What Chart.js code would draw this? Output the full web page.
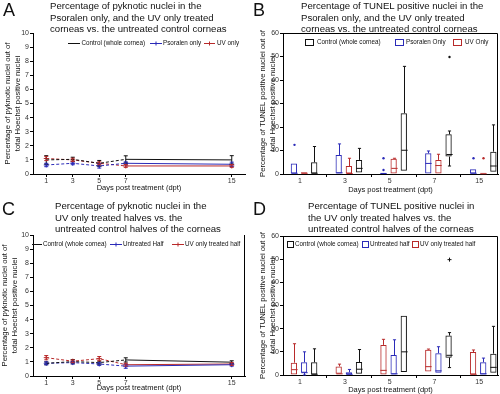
<!DOCTYPE html>
<html><head><meta charset="utf-8">
<script src="https://cdn.jsdelivr.net/npm/chart.js@4"></script>
<style>
body{margin:0;background:#fff;width:500px;height:394px;overflow:hidden;position:relative;font-family:"Liberation Sans",Arial,sans-serif}
.p{position:absolute;width:250px;height:197px}
.p canvas{position:absolute;left:0;top:0}
.letter{position:absolute;font-size:18px;line-height:18px;color:#111}
.title{position:absolute;font-size:9.6px;line-height:11.5px;color:#111;white-space:nowrap}
</style></head><body>
<div class="p" style="left:0;top:0"><canvas id="cA" width="250" height="197"></canvas>
<div class="letter" style="left:3px;top:1px">A</div>
<div class="title" style="left:50px;top:0px">Percentage of pyknotic nuclei in the<br>Psoralen only, and the UV only treated<br>corneas vs. the untreated control corneas</div></div>
<div class="p" style="left:250px;top:0"><canvas id="cB" width="250" height="197"></canvas>
<div class="letter" style="left:3px;top:1px">B</div>
<div class="title" style="left:51px;top:0px">Percentage of TUNEL positive nuclei in the<br>Psoralen only, and the UV only treated<br>corneas vs. the untreated control corneas</div></div>
<div class="p" style="left:0;top:197px"><canvas id="cC" width="250" height="197"></canvas>
<div class="letter" style="left:2px;top:3px">C</div>
<div class="title" style="left:55px;top:3px">Percentage of pyknotic nuclei in the<br>UV only treated halves vs. the<br>untreated control halves of the corneas</div></div>
<div class="p" style="left:250px;top:197px"><canvas id="cD" width="250" height="197"></canvas>
<div class="letter" style="left:3px;top:3px">D</div>
<div class="title" style="left:58px;top:3px">Percentage of TUNEL positive nuclei in<br>the UV only treated halves vs. the<br>untreated control halves of the corneas</div></div>
<script>
// ---------- DATA ----------
const days = [1, 3, 5, 7, 15];
const dayTicks = [1, 3, 5, 7, 15];
const boxCats = ['1', '3', '5', '7', '15'];

// Panel A: pyknotic nuclei (%), mean and error
const aControl = [1.0, 1.04, 0.76, 1.04, 1.0];
const aControlErr = [0.3, 0.15, 0.2, 0.25, 0.3];
const aPsoralen = [0.64, 0.76, 0.57, 0.76, 0.69];
const aPsoralenErr = [0.12, 0.1, 0.15, 0.1, 0.15];
const aUV = [1.1, 1.0, 0.76, 0.57, 0.57];
const aUVErr = [0.15, 0.12, 0.1, 0.1, 0.1];

// Panel C: pyknotic nuclei (%), mean and error
const cControl = [0.9, 1.02, 0.95, 1.14, 0.98];
const cControlErr = [0.1, 0.15, 0.1, 0.15, 0.1];
const cUntreated = [0.9, 0.95, 0.85, 0.7, 0.8];
const cUntreatedErr = [0.1, 0.1, 0.1, 0.15, 0.1];
const cUVHalf = [1.3, 1.05, 1.23, 0.8, 0.85];
const cUVHalfErr = [0.15, 0.1, 0.15, 0.1, 0.1];

// Panel B: TUNEL box plots (min, q1, median, q3, max, outliers)
const bCtrlMin = [0, 0.6, 1.4, 3.4, 1.0];
const bCtrlQ1  = [0, 0.6, 1.4, 7.4, 1.0];
const bCtrlMed = [0.3, 2.4, 10.1, 8.3, 3.4];
const bCtrlQ3  = [5.0, 6.0, 25.9, 16.9, 9.5];
const bCtrlMax = [11.7, 10.9, 45.8, 18.3, 20.9];
const bCtrlOut = [[], [], [], [49.8], []];
const bPsoMin = [0, 0, 0, 0, 0];
const bPsoQ1  = [0, 0, 0, 0, 0];
const bPsoMed = [0.3, 0.5, 0.2, 4.5, 0.3];
const bPsoQ3  = [4.5, 8.1, 0.5, 8.8, 2.0];
const bPsoMax = [4.5, 12.8, 0.5, 9.8, 2.0];
const bPsoOut = [[12.4], [], [1.7, 6.7], [], [6.7]];
const bUVMin = [0, 0, 0, 0, 0];
const bUVQ1  = [0, 0, 0, 0, 0];
const bUVMed = [0.3, 0.2, 2.4, 3.6, 0.1];
const bUVQ3  = [0.7, 3.4, 6.5, 6.0, 0.5];
const bUVMax = [0.7, 6.7, 6.7, 8.4, 0.5];
const bUVOut = [[], [], [], [], [6.7]];

// Panel D: TUNEL box plots
const dCtrlMin = [0, 0.5, 1.3, 3.2, 1.0];
const dCtrlQ1  = [0, 0.5, 1.3, 7.5, 1.0];
const dCtrlMed = [0.3, 2.5, 10.0, 8.5, 3.3];
const dCtrlQ3  = [5.5, 5.6, 25.6, 17.0, 9.2];
const dCtrlMax = [11.3, 11.0, 25.6, 18.3, 21.0];
const dCtrlOut = [[], [], [], [49.8], []];
const dUntMin = [0, 0, 0, 1.0, 0];
const dUntQ1  = [1.0, 0, 0, 1.0, 0];
const dUntMed = [1.0, 0.3, 0.5, 1.8, 0.5];
const dUntQ3  = [5.5, 1.2, 8.6, 9.4, 5.5];
const dUntMax = [10.0, 2.4, 15.2, 12.2, 7.3];
const dUntOut = [[], [], [], [], []];
const dUVMin = [0, 0.5, 0, 1.5, 0];
const dUVQ1  = [0, 0.5, 0, 1.5, 0];
const dUVMed = [2.3, 0.5, 2.0, 3.6, 0.3];
const dUVQ3  = [5.3, 3.7, 13.0, 10.9, 9.9];
const dUVMax = [13.5, 4.7, 15.4, 11.2, 10.8];
const dUVOut = [[], [], [], [], []];

// ---------- STYLE ----------
const BLACK = '#111111', BLUE = '#2b2bb8', RED = '#b82a2a';
const FONT = '"Liberation Sans", Arial, sans-serif';
Chart.defaults.font.family = FONT;
Chart.defaults.color = '#333';
Chart.defaults.animation = false;

// ---------- PLUGINS ----------
const errorBars = {
  id: 'errorBars',
  afterDatasetsDraw(chart) {
    const ctx = chart.ctx, y = chart.scales.y;
    chart.data.datasets.forEach((ds, di) => {
      if (!ds.err) return;
      const meta = chart.getDatasetMeta(di);
      ctx.save();
      ctx.strokeStyle = ds.borderColor; ctx.lineWidth = 1;
      meta.data.forEach((pt, i) => {
        const v = ds.data[i].y, e = ds.err[i];
        const y1 = y.getPixelForValue(v + e), y2 = y.getPixelForValue(v - e);
        ctx.beginPath();
        ctx.moveTo(pt.x, y1); ctx.lineTo(pt.x, y2);
        ctx.moveTo(pt.x - 2, y1); ctx.lineTo(pt.x + 2, y1);
        ctx.moveTo(pt.x - 2, y2); ctx.lineTo(pt.x + 2, y2);
        ctx.stroke();
      });
      ctx.restore();
    });
  }
};

const boxExtras = {
  id: 'boxExtras',
  afterDatasetsDraw(chart, args, opts) {
    const ctx = chart.ctx, y = chart.scales.y;
    chart.data.datasets.forEach((ds, di) => {
      const meta = chart.getDatasetMeta(di);
      ctx.save();
      ctx.strokeStyle = ds.borderColor; ctx.fillStyle = ds.borderColor; ctx.lineWidth = 1;
      meta.data.forEach((bar, i) => {
        const x = Math.round(bar.x) + 0.5, hw = bar.width / 2;
        const yMed = y.getPixelForValue(ds.med[i]);
        const yQ1 = y.getPixelForValue(ds.data[i].y[0]);
        const yQ3 = y.getPixelForValue(ds.data[i].y[1]);
        const yMin = y.getPixelForValue(ds.min[i]);
        const yMax = y.getPixelForValue(ds.max[i]);
        ctx.beginPath();
        ctx.moveTo(x - hw, yMed); ctx.lineTo(x + hw, yMed);
        if (ds.max[i] > ds.data[i].y[1]) {
          ctx.moveTo(x, yQ3); ctx.lineTo(x, yMax);
          ctx.moveTo(x - hw / 2, yMax); ctx.lineTo(x + hw / 2, yMax);
        }
        if (ds.min[i] < ds.data[i].y[0]) {
          ctx.moveTo(x, yQ1); ctx.lineTo(x, yMin);
          ctx.moveTo(x - hw / 2, yMin); ctx.lineTo(x + hw / 2, yMin);
        }
        ctx.stroke();
        (ds.out[i] || []).forEach(o => {
          const yo = y.getPixelForValue(o);
          if (opts.plus) {
            ctx.beginPath();
            ctx.moveTo(x - 2, yo); ctx.lineTo(x + 2, yo);
            ctx.moveTo(x, yo - 2); ctx.lineTo(x, yo + 2);
            ctx.stroke();
          } else {
            ctx.beginPath(); ctx.arc(x, yo, 1.2, 0, Math.PI * 2); ctx.fill();
          }
        });
      });
      ctx.restore();
    });
  }
};

const frame = {
  id: 'frame',
  afterDraw(chart, args, opts) {
    if (!opts.mode) return;
    const {left, right, top, bottom} = chart.chartArea;
    const ctx = chart.ctx;
    ctx.save(); ctx.strokeStyle = '#000'; ctx.lineWidth = 1;
    ctx.beginPath();
    if (opts.mode === 'box') {
      ctx.moveTo(left, top + 0.5); ctx.lineTo(right - 0.5, top + 0.5); ctx.lineTo(right - 0.5, bottom);
    } else if (opts.mode === 'right') {
      ctx.moveTo(right - 0.5, top); ctx.lineTo(right - 0.5, bottom);
    }
    ctx.stroke(); ctx.restore();
  }
};

const customLegend = {
  id: 'customLegend',
  afterDraw(chart, args, opts) {
    if (!opts.items) return;
    const ctx = chart.ctx, y = opts.y;
    ctx.save();
    ctx.font = '6.3px ' + FONT;
    ctx.textBaseline = 'middle';
    chart.data.datasets.forEach((ds, i) => {
      const it = opts.items[i];
      ctx.strokeStyle = ds.borderColor; ctx.lineWidth = 1;
      ctx.beginPath();
      if (opts.kind === 'line') {
        ctx.moveTo(it.x0, y + 0.5); ctx.lineTo(it.x1, y + 0.5);
        if (it.mark) {
          const m = (it.x0 + it.x1) / 2;
          ctx.moveTo(m, y - 1.5); ctx.lineTo(m, y + 2.5);
        }
        ctx.stroke();
      } else {
        ctx.strokeRect(it.x0 + 0.5, y - 2.5, it.x1 - it.x0, 6);
      }
      ctx.fillStyle = '#111';
      ctx.fillText(ds.label, it.tx, y + 0.5);
    });
    ctx.restore();
  }
};

// ---------- BUILDERS ----------
function lineDs(label, color, vals, errs, marker) {
  return {
    label, data: days.map((d, i) => ({x: d, y: vals[i]})), err: errs,
    borderColor: color, backgroundColor: color, borderWidth: 1,
    pointStyle: 'cross', pointRadius: marker ? 2.5 : 0, pointBorderWidth: 1,
    segment: { borderDash: c => (c.p1.parsed.x <= 7 ? [3, 2] : undefined) },
    tension: 0
  };
}
function boxDs(label, color, mn, q1, md, q3, mx, out) {
  return {
    label, data: q1.map((v, i) => ({x: i, y: [v, q3[i]]})),
    min: mn, med: md, max: mx, out,
    borderColor: color, backgroundColor: 'rgba(0,0,0,0)', borderWidth: 1, borderSkipped: false,
    barPercentage: 0.62, categoryPercentage: 0.68
  };
}
function yAxis(max, step, titleLines, width, titlePadTop) {
  return {
    min: 0, max,
    ticks: { stepSize: step, font: {size: 7}, padding: 1, color: '#333' },
    grid: { drawOnChartArea: false, drawTicks: true, tickLength: 3, color: '#000' },
    border: { display: true, color: '#000', width: 1 },
    title: { display: true, text: titleLines, font: {size: 7.7, lineHeight: 1.25}, color: '#111', padding: {top: titlePadTop, bottom: 0} },
    afterFit: s => { s.width = width; }
  };
}
function xAxisLinear(height, titlePadBottom) {
  return {
    type: 'linear', min: 0, max: 16,
    afterBuildTicks: s => { s.ticks = dayTicks.map(v => ({value: v})); },
    ticks: { font: {size: 7}, padding: 0, color: '#333', maxRotation: 0 },
    grid: { drawOnChartArea: false, drawTicks: true, tickLength: 3, color: '#000' },
    border: { display: true, color: '#000', width: 1 },
    title: { display: true, text: 'Days post treatment (dpt)', font: {size: 7.5, lineHeight: 1.2}, color: '#111', padding: {top: 0, bottom: titlePadBottom} },
    afterFit: s => { s.height = height; }
  };
}
function xAxisBox(height, titlePadBottom) {
  return {
    type: 'linear', min: -0.47, max: 4.33, offset: false,
    afterBuildTicks: s => { s.ticks = boxCats.map((c, i) => ({value: i})); },
    ticks: { font: {size: 7}, padding: 0, color: '#333', maxRotation: 0, labelOffset: -4, callback: v => boxCats[v] },
    grid: { drawOnChartArea: false, drawTicks: true, tickLength: 3, color: '#000' },
    border: { display: true, color: '#000', width: 1 },
    title: { display: true, text: 'Days post treatment (dpt)', font: {size: 7.5, lineHeight: 1.2}, color: '#111', padding: {top: 0, bottom: titlePadBottom} },
    afterFit: s => { s.height = height; }
  };
}
const pykTitle = ['Percentage of pyknotic nuclei out of', 'total Hoechst positive nuclei'];
const tunelTitle = ['Percentage of TUNEL positive nuclei out of', 'total Hoechst positive nuclei'];
const basePlugins = { legend: {display: false}, tooltip: {enabled: false}, title: {display: false} };

// ---------- PANEL A ----------
new Chart(document.getElementById('cA'), {
  type: 'line',
  data: { datasets: [
    lineDs('Control (whole cornea)', BLACK, aControl, aControlErr, false),
    lineDs('Psoralen only', BLUE, aPsoralen, aPsoralenErr, true),
    lineDs('UV only', RED, aUV, aUVErr, true)
  ]},
  options: {
    responsive: false, devicePixelRatio: 1,
    layout: { padding: {left: 0, right: 3, top: 33, bottom: 0} },
    scales: { x: xAxisLinear(23, 5), y: yAxis(10, 1, pykTitle, 33, 3) },
    plugins: Object.assign({}, basePlugins, {
      customLegend: { kind: 'line', y: 43, items: [
        {x0: 68, x1: 80, tx: 81.5}, {x0: 150, x1: 162, tx: 163, mark: true}, {x0: 204, x1: 215, tx: 217, mark: true}
      ]},
      frame: {mode: null}
    })
  },
  plugins: [errorBars, customLegend, frame]
});

// ---------- PANEL C ----------
new Chart(document.getElementById('cC'), {
  type: 'line',
  data: { datasets: [
    lineDs('Control (whole cornea)', BLACK, cControl, cControlErr, false),
    lineDs('Untreated Half', BLUE, cUntreated, cUntreatedErr, true),
    lineDs('UV only treated half', RED, cUVHalf, cUVHalfErr, true)
  ]},
  options: {
    responsive: false, devicePixelRatio: 1,
    layout: { padding: {left: 0, right: 4, top: 38, bottom: 0} },
    scales: { x: xAxisLinear(18, 2), y: yAxis(10, 1, pykTitle, 33, 0) },
    plugins: Object.assign({}, basePlugins, {
      customLegend: { kind: 'line', y: 47, items: [
        {x0: 32, x1: 42, tx: 43}, {x0: 110, x1: 122, tx: 123, mark: true}, {x0: 172, x1: 184, tx: 185, mark: true}
      ]},
      frame: {mode: 'right'}
    })
  },
  plugins: [errorBars, customLegend, frame]
});

// ---------- PANEL B ----------
new Chart(document.getElementById('cB'), {
  type: 'bar',
  data: { datasets: [
    boxDs('Psoralen Only', BLUE, bPsoMin, bPsoQ1, bPsoMed, bPsoQ3, bPsoMax, bPsoOut),
    boxDs('UV Only', RED, bUVMin, bUVQ1, bUVMed, bUVQ3, bUVMax, bUVOut),
    boxDs('Control (whole cornea)', BLACK, bCtrlMin, bCtrlQ1, bCtrlMed, bCtrlQ3, bCtrlMax, bCtrlOut)
  ]},
  options: {
    responsive: false, devicePixelRatio: 1,
    layout: { padding: {left: 0, right: 2, top: 33, bottom: 0} },
    scales: { x: xAxisBox(23, 3), y: yAxis(60, 10, tunelTitle, 33, 8) },
    plugins: Object.assign({}, basePlugins, {
      customLegend: { kind: 'box', y: 42, items: [
        {x0: 145, x1: 153, tx: 156}, {x0: 203, x1: 211, tx: 215}, {x0: 55, x1: 63, tx: 67}
      ]},
      boxExtras: { plus: false },
      frame: {mode: 'box'}
    })
  },
  plugins: [boxExtras, customLegend, frame]
});

// ---------- PANEL D ----------
new Chart(document.getElementById('cD'), {
  type: 'bar',
  data: { datasets: [
    boxDs('UV only treated half', RED, dUVMin, dUVQ1, dUVMed, dUVQ3, dUVMax, dUVOut),
    boxDs('Untreated half', BLUE, dUntMin, dUntQ1, dUntMed, dUntQ3, dUntMax, dUntOut),
    boxDs('Control (whole cornea)', BLACK, dCtrlMin, dCtrlQ1, dCtrlMed, dCtrlQ3, dCtrlMax, dCtrlOut)
  ]},
  options: {
    responsive: false, devicePixelRatio: 1,
    layout: { padding: {left: 0, right: 2, top: 39, bottom: 0} },
    scales: { x: xAxisBox(19, 0), y: yAxis(60, 10, tunelTitle, 33, 8) },
    plugins: Object.assign({}, basePlugins, {
      customLegend: { kind: 'box', y: 47, items: [
        {x0: 162, x1: 168, tx: 170}, {x0: 112, x1: 118, tx: 120}, {x0: 37, x1: 43, tx: 45}
      ]},
      boxExtras: { plus: true },
      frame: {mode: 'box'}
    })
  },
  plugins: [boxExtras, customLegend, frame]
});
</script>
</body></html>
